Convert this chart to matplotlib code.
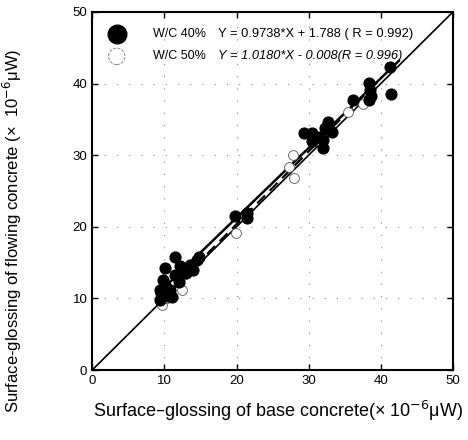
import numpy as np
import matplotlib
matplotlib.use("Agg")
import matplotlib.pyplot as plt

plt.rcParams['font.family'] = ['Liberation Sans', 'DejaVu Sans']

# W/C 40% (filled)
x40 = [41.3, 41.4, 38.3, 38.5, 38.3, 38.7, 36.2, 32.7, 32.3, 33.2, 32.0, 32.0, 31.5,
       29.3, 30.4, 30.5, 21.4, 19.8, 21.4,
       11.5, 10.1, 9.8, 9.4, 9.4, 10.8, 12.6, 13.6, 14.5, 14.0, 11.5, 12.0, 10.5,
       11.0, 13.0, 9.6, 10.2, 12.2, 14.8]
y40 = [42.3, 38.5, 40.1, 39.1, 37.7, 38.3, 37.7, 34.6, 33.8, 33.2, 32.1, 31.0, 32.5,
       33.1, 33.1, 32.0, 21.9, 21.5, 21.2,
       15.8, 14.2, 12.6, 11.2, 9.8, 11.2, 13.7, 14.7, 15.4, 14.0, 13.3, 12.3, 10.4,
       10.2, 13.6, 10.8, 11.6, 14.5, 15.8]
# W/C 50% (open)
x50 = [9.7, 10.3, 12.5, 12.6, 13.4, 19.9, 27.8, 27.3, 28.0, 35.5, 37.5, 38.4, 31.5, 33.0]
y50 = [9.1, 10.0, 11.2, 13.3, 13.8, 19.1, 30.0, 28.4, 26.8, 36.0, 37.2, 38.2, 32.0, 33.5]

fig = plt.figure(figsize=(4.68, 4.40), dpi=100)
ax = fig.add_axes([0.197, 0.159, 0.771, 0.814])

ax.plot([0, 50], [0, 50], color='black', lw=1.2)
xr = np.array([9.0, 42.5])
ax.plot(xr, 0.9738 * xr + 1.788, color='black', lw=1.8)
xr2 = np.array([9.0, 39.5])
ax.plot(xr2, 1.0180 * xr2 - 0.008, color='black', lw=1.6, ls=(0, (5, 3)))

ax.scatter(x50, y50, s=50, facecolors='white', edgecolors='#555555', linewidths=0.6, zorder=3)
ax.scatter(x40, y40, s=60, color='black', zorder=4)

ax.set_xlim(0, 50)
ax.set_ylim(0, 50)
ax.set_xticks(range(0, 51, 10))
ax.set_yticks(range(0, 51, 10))
ax.tick_params(direction='in', length=4, width=1, labelsize=9.5, top=True, right=True)
for s in ax.spines.values():
    s.set_linewidth(1.5)
ax.grid(True, color='#888888', lw=0.8, ls=(0, (1, 10)))

# legend rows
ax.scatter([3.4], [46.9], s=180, color='black', clip_on=False, zorder=5)
ax.scatter([3.4], [43.8], s=140, facecolors='white', edgecolors='#777777',
           linewidths=0.6, ls='--', clip_on=False, zorder=5)
ax.text(8.4, 46.9, 'W/C 40%', fontsize=9, va='center')
ax.text(17.4, 46.9, 'Y = 0.9738*X + 1.788 ( R = 0.992)', fontsize=9.3, va='center')
ax.text(8.4, 43.8, 'W/C 50%', fontsize=9, va='center')
ax.text(17.4, 43.8, 'Y = 1.0180*X - 0.008(R = 0.996)', fontsize=9.3, va='center', style='italic')

ax.set_xlabel('Surface\u2013glossing of base concrete(\u00d7 10$^{-6}$\u03bcW)', fontsize=13)
ax.set_ylabel('Surface-glossing of flowing concrete (\u00d7  10$^{-6}$\u03bcW)', fontsize=12)
ax.xaxis.set_label_coords(0.515, -0.08)
ax.yaxis.set_label_coords(-0.19, 0.39)

fig.savefig('out.png', dpi=100)
